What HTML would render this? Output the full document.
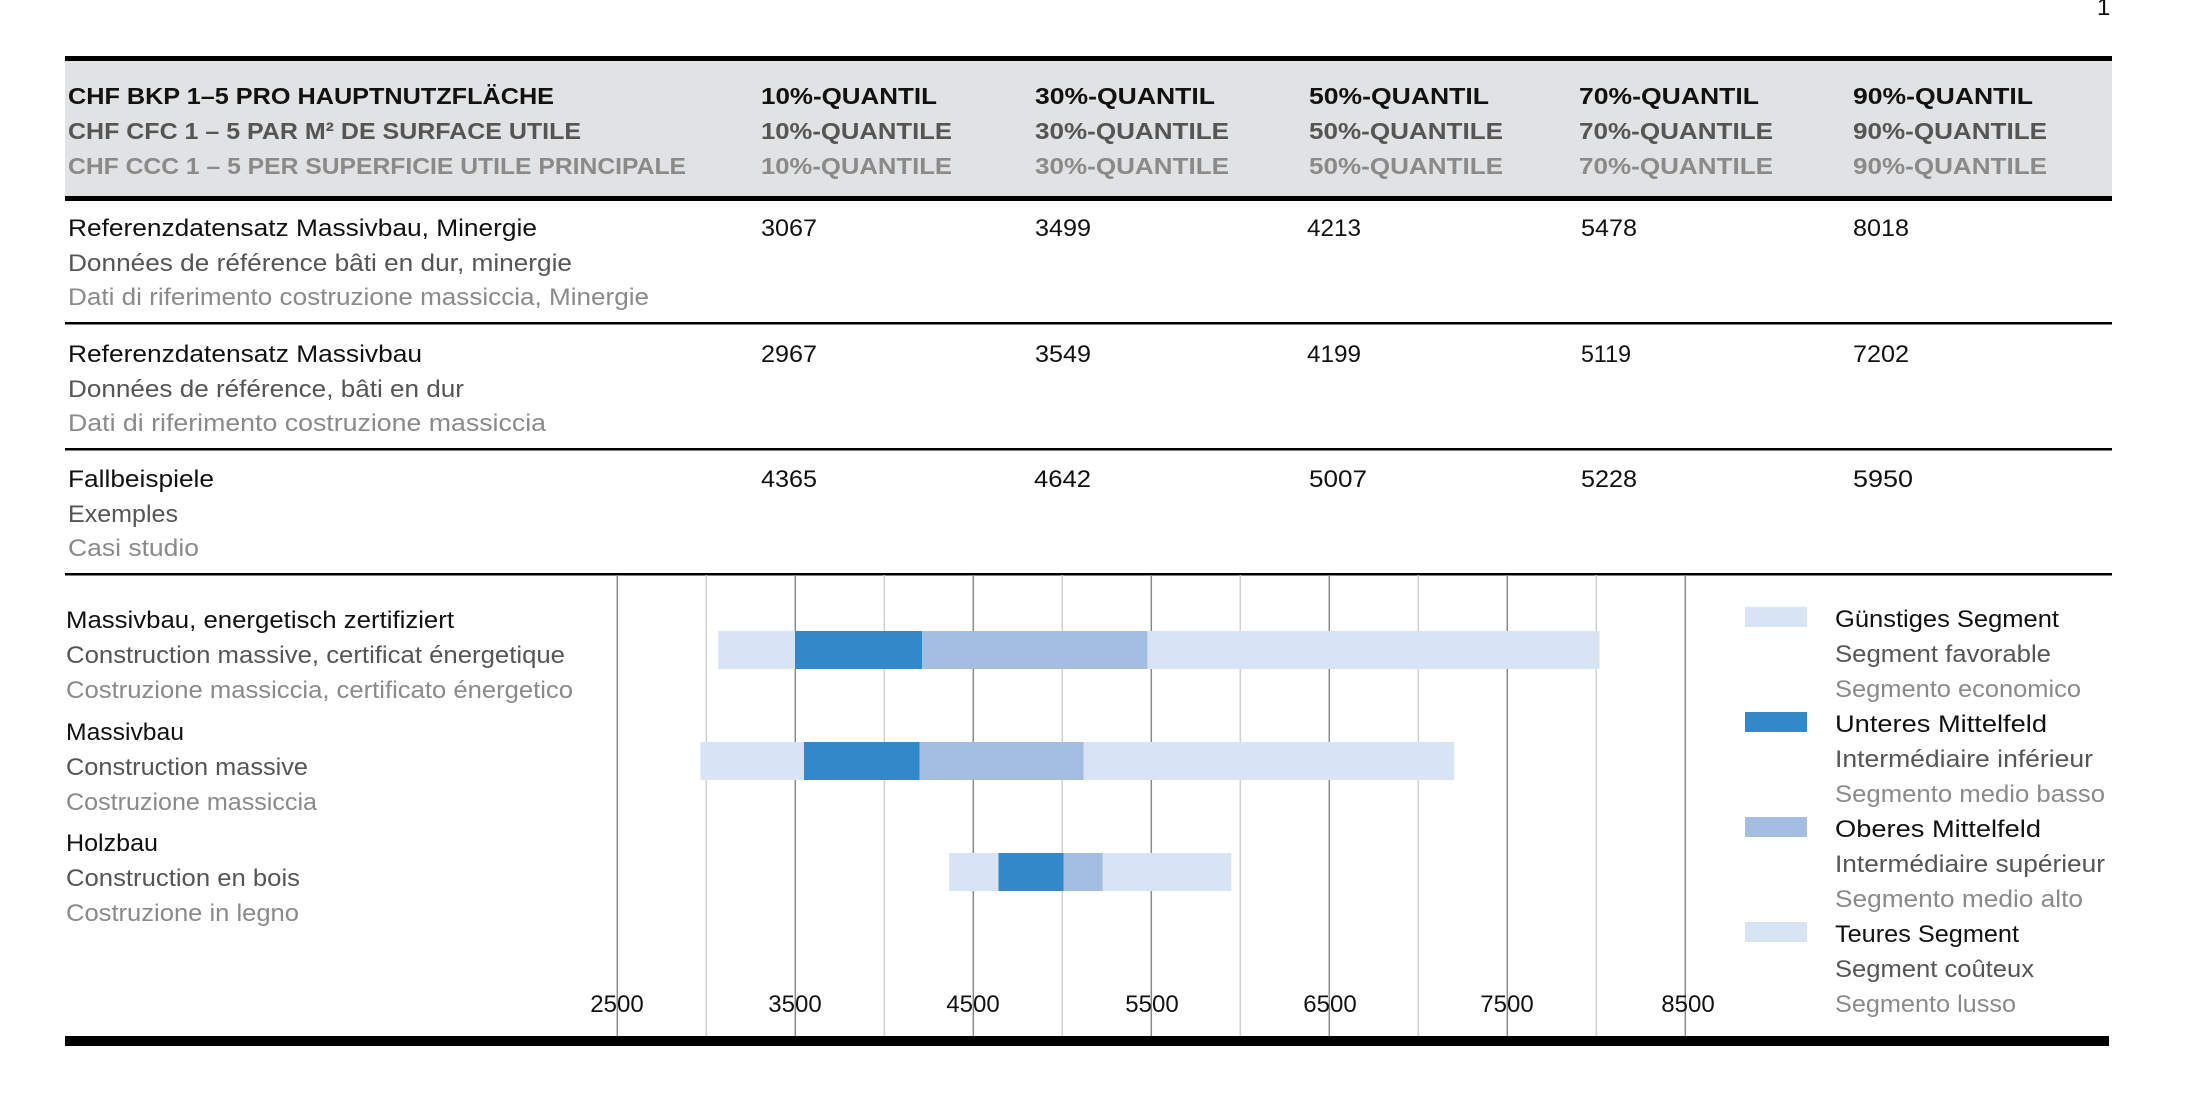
<!DOCTYPE html>
<html><head><meta charset="utf-8"><style>
html,body{margin:0;padding:0;background:#fff;}
svg{display:block;}
text{font-family:"Liberation Sans",sans-serif;font-size:24px;}
.k{fill:#111}.m{fill:#555}.l{fill:#8a8a8a}
.h{font-weight:bold;font-size:23px}
</style></head><body>
<svg width="2198" height="1100" viewBox="0 0 2198 1100" xmlns="http://www.w3.org/2000/svg">
<text x="2097" y="15" class="k" font-size="20">1</text>
<rect x="65" y="60" width="2047" height="136" fill="#e1e2e3"/>
<rect x="65" y="56" width="2047" height="5" fill="#000"/>
<rect x="65" y="196" width="2047" height="5" fill="#000"/>
<rect x="65" y="322" width="2047" height="2.5" fill="#000"/>
<rect x="65" y="448" width="2047" height="2.5" fill="#000"/>
<rect x="65" y="573" width="2047" height="2.5" fill="#000"/>
<rect x="65" y="1036" width="2044" height="10" fill="#000"/>

<!-- header -->
<text x="68" y="104" class="k h" textLength="486" lengthAdjust="spacingAndGlyphs">CHF BKP 1–5 PRO HAUPTNUTZFLÄCHE</text>
<text x="68" y="139" class="m h" textLength="513" lengthAdjust="spacingAndGlyphs">CHF CFC 1 – 5 PAR M² DE SURFACE UTILE</text>
<text x="68" y="174" class="l h" textLength="618" lengthAdjust="spacingAndGlyphs">CHF CCC 1 – 5 PER SUPERFICIE UTILE PRINCIPALE</text>
<g>
<text x="761" y="104" class="k h" textLength="176" lengthAdjust="spacingAndGlyphs">10%-QUANTIL</text>
<text x="761" y="139" class="m h" textLength="191" lengthAdjust="spacingAndGlyphs">10%-QUANTILE</text>
<text x="761" y="174" class="l h" textLength="191" lengthAdjust="spacingAndGlyphs">10%-QUANTILE</text>
<text x="1035" y="104" class="k h" textLength="180" lengthAdjust="spacingAndGlyphs">30%-QUANTIL</text>
<text x="1035" y="139" class="m h" textLength="194" lengthAdjust="spacingAndGlyphs">30%-QUANTILE</text>
<text x="1035" y="174" class="l h" textLength="194" lengthAdjust="spacingAndGlyphs">30%-QUANTILE</text>
<text x="1309" y="104" class="k h" textLength="180" lengthAdjust="spacingAndGlyphs">50%-QUANTIL</text>
<text x="1309" y="139" class="m h" textLength="194" lengthAdjust="spacingAndGlyphs">50%-QUANTILE</text>
<text x="1309" y="174" class="l h" textLength="194" lengthAdjust="spacingAndGlyphs">50%-QUANTILE</text>
<text x="1579" y="104" class="k h" textLength="180" lengthAdjust="spacingAndGlyphs">70%-QUANTIL</text>
<text x="1579" y="139" class="m h" textLength="194" lengthAdjust="spacingAndGlyphs">70%-QUANTILE</text>
<text x="1579" y="174" class="l h" textLength="194" lengthAdjust="spacingAndGlyphs">70%-QUANTILE</text>
<text x="1853" y="104" class="k h" textLength="180" lengthAdjust="spacingAndGlyphs">90%-QUANTIL</text>
<text x="1853" y="139" class="m h" textLength="194" lengthAdjust="spacingAndGlyphs">90%-QUANTILE</text>
<text x="1853" y="174" class="l h" textLength="194" lengthAdjust="spacingAndGlyphs">90%-QUANTILE</text>
</g>

<!-- rows -->
<text x="68" y="236" class="k" textLength="469" lengthAdjust="spacingAndGlyphs">Referenzdatensatz Massivbau, Minergie</text>
<text x="68" y="271" class="m" textLength="504" lengthAdjust="spacingAndGlyphs">Données de référence bâti en dur, minergie</text>
<text x="68" y="305" class="l" textLength="581" lengthAdjust="spacingAndGlyphs">Dati di riferimento costruzione massiccia, Minergie</text>
<text x="68" y="362" class="k" textLength="354" lengthAdjust="spacingAndGlyphs">Referenzdatensatz Massivbau</text>
<text x="68" y="397" class="m" textLength="396" lengthAdjust="spacingAndGlyphs">Données de référence, bâti en dur</text>
<text x="68" y="431" class="l" textLength="478" lengthAdjust="spacingAndGlyphs">Dati di riferimento costruzione massiccia</text>
<text x="68" y="487" class="k" textLength="146" lengthAdjust="spacingAndGlyphs">Fallbeispiele</text>
<text x="68" y="522" class="m" textLength="110" lengthAdjust="spacingAndGlyphs">Exemples</text>
<text x="68" y="556" class="l" textLength="131" lengthAdjust="spacingAndGlyphs">Casi studio</text>

<g class="k">
<text x="761" y="236" class="k" textLength="56" lengthAdjust="spacingAndGlyphs">3067</text>
<text x="1035" y="236" class="k" textLength="56" lengthAdjust="spacingAndGlyphs">3499</text>
<text x="1307" y="236" class="k" textLength="54" lengthAdjust="spacingAndGlyphs">4213</text>
<text x="1581" y="236" class="k" textLength="56" lengthAdjust="spacingAndGlyphs">5478</text>
<text x="1853" y="236" class="k" textLength="56" lengthAdjust="spacingAndGlyphs">8018</text>
<text x="761" y="362" class="k" textLength="56" lengthAdjust="spacingAndGlyphs">2967</text>
<text x="1035" y="362" class="k" textLength="56" lengthAdjust="spacingAndGlyphs">3549</text>
<text x="1307" y="362" class="k" textLength="54" lengthAdjust="spacingAndGlyphs">4199</text>
<text x="1581" y="362" class="k" textLength="50" lengthAdjust="spacingAndGlyphs">5119</text>
<text x="1853" y="362" class="k" textLength="56" lengthAdjust="spacingAndGlyphs">7202</text>
<text x="761" y="487" class="k" textLength="56" lengthAdjust="spacingAndGlyphs">4365</text>
<text x="1034" y="487" class="k" textLength="57" lengthAdjust="spacingAndGlyphs">4642</text>
<text x="1309" y="487" class="k" textLength="58" lengthAdjust="spacingAndGlyphs">5007</text>
<text x="1581" y="487" class="k" textLength="56" lengthAdjust="spacingAndGlyphs">5228</text>
<text x="1853" y="487" class="k" textLength="60" lengthAdjust="spacingAndGlyphs">5950</text>
</g>

<!-- gridlines -->
<g stroke-width="1.5">
<line x1="617.3" y1="575" x2="617.3" y2="1036" stroke="#8a8a8a"/>
<line x1="706.3" y1="575" x2="706.3" y2="1036" stroke="#d0d0d0"/>
<line x1="795.3" y1="575" x2="795.3" y2="1036" stroke="#8a8a8a"/>
<line x1="884.3" y1="575" x2="884.3" y2="1036" stroke="#d0d0d0"/>
<line x1="973.3" y1="575" x2="973.3" y2="1036" stroke="#8a8a8a"/>
<line x1="1062.3" y1="575" x2="1062.3" y2="1036" stroke="#d0d0d0"/>
<line x1="1151.3" y1="575" x2="1151.3" y2="1036" stroke="#8a8a8a"/>
<line x1="1240.3" y1="575" x2="1240.3" y2="1036" stroke="#d0d0d0"/>
<line x1="1329.3" y1="575" x2="1329.3" y2="1036" stroke="#8a8a8a"/>
<line x1="1418.3" y1="575" x2="1418.3" y2="1036" stroke="#d0d0d0"/>
<line x1="1507.3" y1="575" x2="1507.3" y2="1036" stroke="#8a8a8a"/>
<line x1="1596.3" y1="575" x2="1596.3" y2="1036" stroke="#d0d0d0"/>
<line x1="1685.3" y1="575" x2="1685.3" y2="1036" stroke="#8a8a8a"/>
</g>

<!-- bars: x = 617.3 + (v-2500)*0.178 -->
<g>
<rect x="718.2" y="631" width="76.9" height="38" fill="#d8e3f3"/>
<rect x="795.1" y="631" width="127.1" height="38" fill="#3288c8"/>
<rect x="922.2" y="631" width="225.2" height="38" fill="#a4bee2"/>
<rect x="1147.4" y="631" width="452.1" height="38" fill="#d8e3f3"/>

<rect x="700.4" y="742" width="103.6" height="38" fill="#d8e3f3"/>
<rect x="804.0" y="742" width="115.7" height="38" fill="#3288c8"/>
<rect x="919.7" y="742" width="163.8" height="38" fill="#a4bee2"/>
<rect x="1083.5" y="742" width="370.7" height="38" fill="#d8e3f3"/>

<rect x="949.2" y="853" width="49.3" height="38" fill="#d8e3f3"/>
<rect x="998.5" y="853" width="65.0" height="38" fill="#3288c8"/>
<rect x="1063.5" y="853" width="39.3" height="38" fill="#a4bee2"/>
<rect x="1102.8" y="853" width="128.5" height="38" fill="#d8e3f3"/>
</g>

<!-- chart labels -->
<text x="66" y="628" class="k" textLength="388" lengthAdjust="spacingAndGlyphs">Massivbau, energetisch zertifiziert</text>
<text x="66" y="663" class="m" textLength="499" lengthAdjust="spacingAndGlyphs">Construction massive, certificat énergetique</text>
<text x="66" y="698" class="l" textLength="507" lengthAdjust="spacingAndGlyphs">Costruzione massiccia, certificato énergetico</text>
<text x="66" y="740" class="k" textLength="118" lengthAdjust="spacingAndGlyphs">Massivbau</text>
<text x="66" y="775" class="m" textLength="242" lengthAdjust="spacingAndGlyphs">Construction massive</text>
<text x="66" y="810" class="l" textLength="251" lengthAdjust="spacingAndGlyphs">Costruzione massiccia</text>
<text x="66" y="851" class="k" textLength="92" lengthAdjust="spacingAndGlyphs">Holzbau</text>
<text x="66" y="886" class="m" textLength="234" lengthAdjust="spacingAndGlyphs">Construction en bois</text>
<text x="66" y="921" class="l" textLength="233" lengthAdjust="spacingAndGlyphs">Costruzione in legno</text>

<!-- axis labels -->
<g class="k" text-anchor="middle">
<text x="617" y="1012">2500</text>
<text x="795" y="1012">3500</text>
<text x="973" y="1012">4500</text>
<text x="1152" y="1012">5500</text>
<text x="1330" y="1012">6500</text>
<text x="1507" y="1012">7500</text>
<text x="1688" y="1012">8500</text>
</g>

<!-- legend -->
<rect x="1745" y="607" width="62" height="20" fill="#d8e3f3"/>
<rect x="1745" y="712" width="62" height="20" fill="#3288c8"/>
<rect x="1745" y="817" width="62" height="20" fill="#a4bee2"/>
<rect x="1745" y="922" width="62" height="20" fill="#d8e3f3"/>
<text x="1835" y="627" class="k" textLength="224" lengthAdjust="spacingAndGlyphs">Günstiges Segment</text>
<text x="1835" y="662" class="m" textLength="216" lengthAdjust="spacingAndGlyphs">Segment favorable</text>
<text x="1835" y="697" class="l" textLength="246" lengthAdjust="spacingAndGlyphs">Segmento economico</text>
<text x="1835" y="732" class="k" textLength="212" lengthAdjust="spacingAndGlyphs">Unteres Mittelfeld</text>
<text x="1835" y="767" class="m" textLength="258" lengthAdjust="spacingAndGlyphs">Intermédiaire inférieur</text>
<text x="1835" y="802" class="l" textLength="270" lengthAdjust="spacingAndGlyphs">Segmento medio basso</text>
<text x="1835" y="837" class="k" textLength="206" lengthAdjust="spacingAndGlyphs">Oberes Mittelfeld</text>
<text x="1835" y="872" class="m" textLength="270" lengthAdjust="spacingAndGlyphs">Intermédiaire supérieur</text>
<text x="1835" y="907" class="l" textLength="248" lengthAdjust="spacingAndGlyphs">Segmento medio alto</text>
<text x="1835" y="942" class="k" textLength="184" lengthAdjust="spacingAndGlyphs">Teures Segment</text>
<text x="1835" y="977" class="m" textLength="199" lengthAdjust="spacingAndGlyphs">Segment coûteux</text>
<text x="1835" y="1012" class="l" textLength="181" lengthAdjust="spacingAndGlyphs">Segmento lusso</text>
</svg>
</body></html>
